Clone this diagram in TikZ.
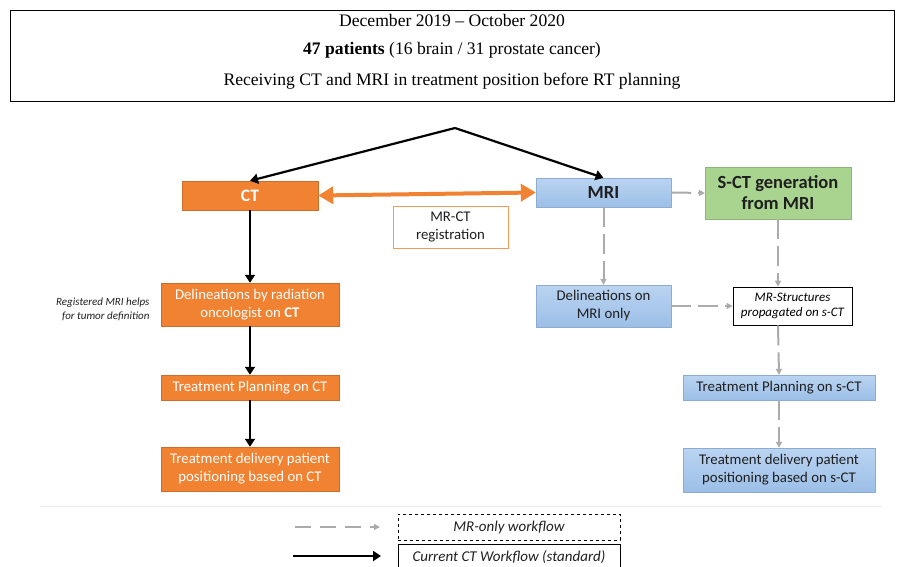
\documentclass[tikz,border=0pt]{standalone}
\usepackage{fontspec}
\setmainfont{Liberation Serif}
\setsansfont{Carlito}
\usetikzlibrary{arrows.meta}
\definecolor{ctorange}{HTML}{F08232}
\definecolor{mriblue}{HTML}{A9C9EE}
\definecolor{mriblueb}{HTML}{9CBFE7}
\definecolor{sctgreen}{HTML}{A9D48F}
\definecolor{dashgrey}{HTML}{ABABAB}
\definecolor{txtdark}{HTML}{1F1F1F}
\tikzset{
  x=1pt,y=-1pt,
  orangebox/.style={rectangle,fill=ctorange,draw=ctorange!85!black,line width=0.4pt,text=white,font=\sffamily,align=center,inner sep=0pt},
  bluebox/.style={rectangle,top color=mriblue!80!white,bottom color=mriblueb,draw=mriblueb!90!black,line width=0.3pt,text=txtdark,font=\sffamily,align=center,inner sep=0pt},
  greenbox/.style={rectangle,fill=sctgreen,draw=sctgreen!85!black,line width=0.3pt,text=txtdark,font=\sffamily\bfseries,align=center,inner sep=0pt},
  whitebox/.style={rectangle,fill=white,draw=black,line width=0.7pt,font=\sffamily\itshape,align=center,inner sep=0pt},
  boxtext/.style={font=\sffamily\fontsize{14.8}{18}\selectfont},
  ctarrow/.style={-{Triangle[length=8pt,width=10pt]},line width=2.8pt,black},
  mrarrow/.style={-{Triangle[length=6pt,width=6pt]},line width=2pt,dashgrey,dash pattern=on 20pt off 7pt},
}
\begin{document}
\begin{tikzpicture}
\useasboundingbox (0,0) rectangle (897,567);
% header
\node[draw=black,line width=0.8pt,minimum width=884pt,minimum height=91pt,inner sep=0pt] (hdr) at (452,55.5) {};
\node[font=\fontsize{17.6}{20}\selectfont] (h1) at (452,20) {December 2019 -- October 2020};
\node[font=\fontsize{17.6}{20}\selectfont] (h2) at (452,50) {\textbf{47 patients} (16 brain / 31 prostate cancer)};
\node[font=\fontsize{17.6}{20}\selectfont] (h3) at (452,81) {Receiving CT and MRI in treatment position before RT planning};

% nodes
\coordinate (apex) at (455,128);
\node[orangebox,minimum width=136pt,minimum height=29pt,font=\sffamily\bfseries\fontsize{17.5}{20}\selectfont] (CT) at (250,195.5) {CT};
\node[bluebox,minimum width=135pt,minimum height=29pt,font=\sffamily\bfseries\fontsize{18.5}{20}\selectfont] (MRI) at (603.5,192.5) {MRI};
\node[greenbox,minimum width=146pt,minimum height=52pt,font=\sffamily\bfseries\fontsize{18.5}{21}\selectfont] (SCT) at (778,193) {S-CT generation\\from MRI};
\node[rectangle,draw=ctorange!80!white,fill=white,line width=0.8pt,minimum width=115pt,minimum height=42pt,font=\sffamily\fontsize{14.8}{17.5}\selectfont,text=txtdark,align=center,inner sep=0pt] (MRCT) at (450.5,227) {MR-CT\\registration};

\node[orangebox,minimum width=178pt,minimum height=43pt,boxtext] (DelCT) at (250,304.5) {Delineations by radiation\\oncologist on \textbf{CT}};
\node[orangebox,minimum width=178pt,minimum height=25pt,boxtext] (TPCT) at (250,387.5) {Treatment Planning on CT};
\node[orangebox,minimum width=178pt,minimum height=44pt,boxtext] (TDCT) at (250,469) {Treatment delivery patient\\positioning based on CT};
\node[font=\sffamily\itshape\fontsize{11}{13.5}\selectfont,align=right,anchor=east,text=txtdark] (note) at (153,309.5) {Registered MRI helps\\for tumor definition};

\node[bluebox,minimum width=135pt,minimum height=42pt,boxtext] (DelMRI) at (603.5,306) {Delineations on\\MRI only};
\node[whitebox,minimum width=119pt,minimum height=38pt,font=\sffamily\itshape\fontsize{13}{15.5}\selectfont] (MRS) at (792.5,306) {MR-Structures\\propagated on s-CT};
\node[bluebox,minimum width=192pt,minimum height=25pt,boxtext] (TPsCT) at (779,387.5) {Treatment Planning on s-CT};
\node[bluebox,minimum width=192pt,minimum height=44pt,boxtext] (TDsCT) at (779,470) {Treatment delivery patient\\positioning based on s-CT};

% CT workflow connectors
\draw[ctarrow,line width=2.2pt] (apex) -- (CT.north);
\draw[ctarrow,line width=2.2pt] (apex) -- (MRI.north);
\draw[ctarrow] (CT.south) -- (DelCT.north);
\draw[ctarrow] (DelCT.south) -- (TPCT.north);
\draw[ctarrow] (TPCT.south) -- (TDCT.north);
\draw[{Triangle[length=15pt,width=17pt]}-{Triangle[length=15pt,width=17pt]},line width=4pt,ctorange] (CT.east) -- (MRI.west);

% MR-only connectors
\draw[mrarrow] (MRI.east) -- (SCT.west);
\draw[mrarrow] (MRI.south) -- (DelMRI.north);
\draw[mrarrow] (DelMRI.east) -- (MRS.west);
\draw[mrarrow] (SCT.south) -- (SCT.south |- MRS.north);
\draw[mrarrow] (SCT.south |- MRS.south) -- (TPsCT.north);
\draw[mrarrow] (TPsCT.south) -- (TDsCT.north);

% legend
\coordinate (sepL) at (40,506);
\coordinate (sepR) at (882,506);
\draw[black!8,line width=0.8pt] (sepL) -- (sepR);
\coordinate (l1a) at (295,527);
\coordinate (l1b) at (380,527);
\coordinate (l2a) at (293,556);
\coordinate (l2b) at (381,556);
\draw[mrarrow,line width=2.5pt,dash pattern=on 16pt off 9pt] (l1a) -- (l1b);
\draw[ctarrow] (l2a) -- (l2b);
\node[rectangle,draw=black,dashed,line width=0.8pt,minimum width=222pt,minimum height=26pt,font=\sffamily\itshape\fontsize{15}{17}\selectfont,text=txtdark,inner sep=0pt] (leg1) at (509,527) {MR-only workflow};
\node[rectangle,draw=black,line width=0.8pt,minimum width=222pt,minimum height=30pt,inner sep=0pt] (leg2) at (509,559) {};
\node[font=\sffamily\itshape\fontsize{15}{17}\selectfont,text=txtdark] (leg2t) at (509,557) {Current CT Workflow (standard)};
\end{tikzpicture}
\end{document}
